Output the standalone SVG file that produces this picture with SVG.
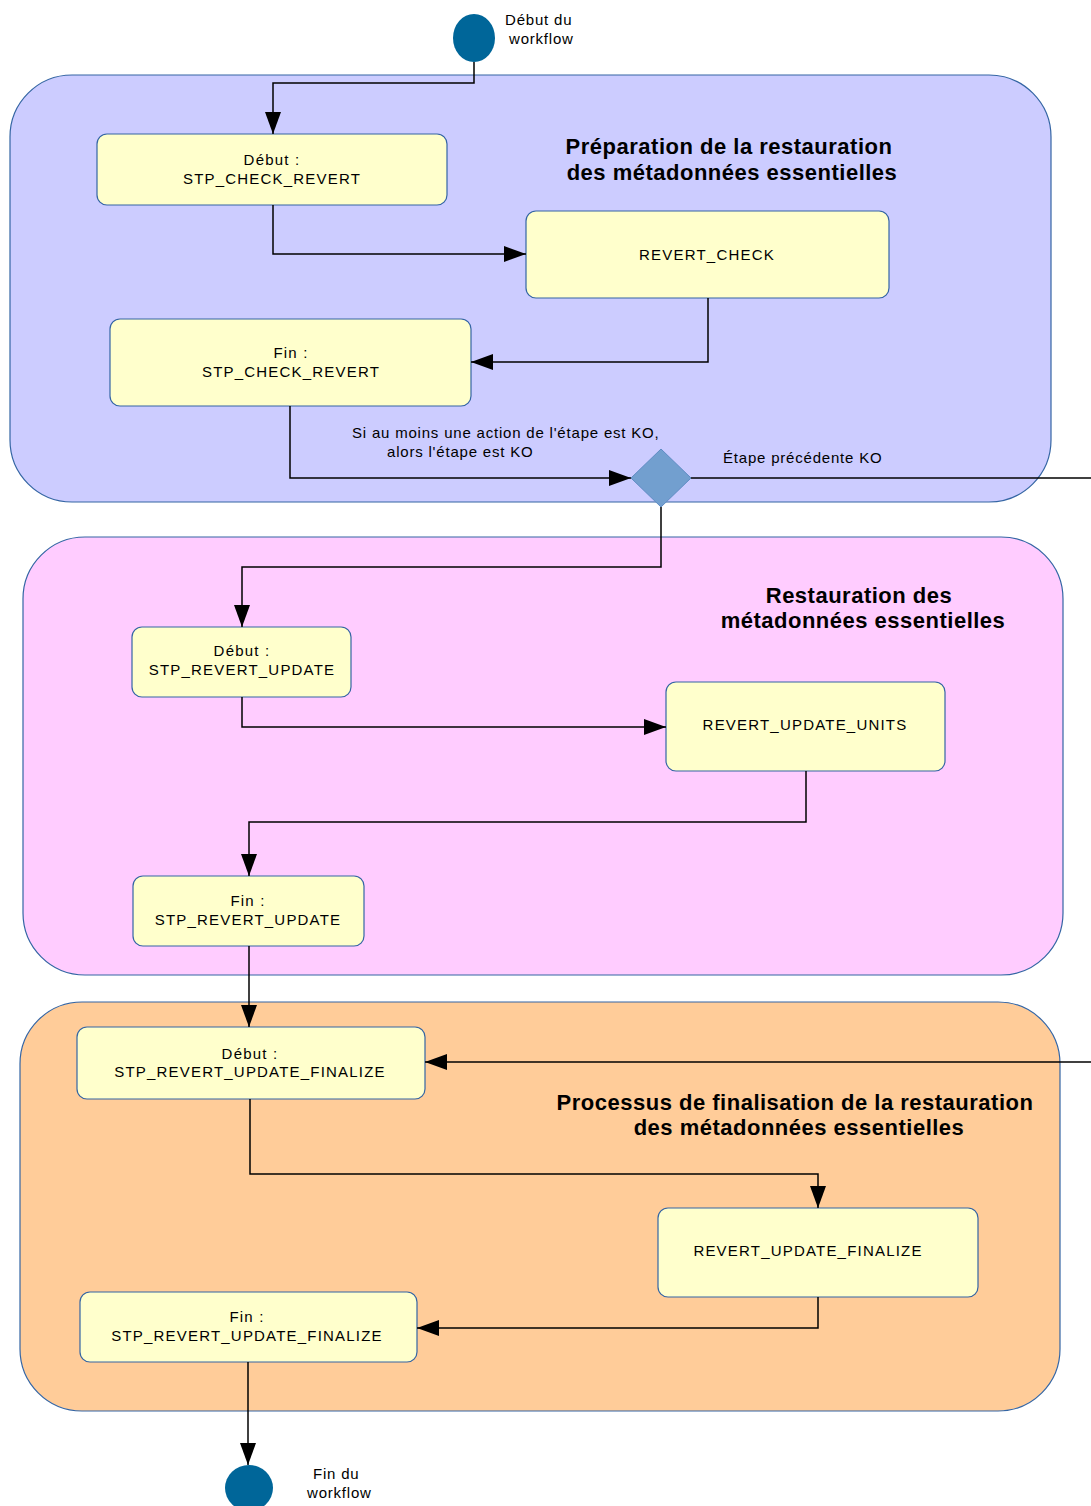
<svg xmlns="http://www.w3.org/2000/svg" width="1091" height="1506" viewBox="0 0 1091 1506">
<style>
.lane{stroke:#3465a4;stroke-width:1.2}
.node{fill:#ffffcc;stroke:#3465a4;stroke-width:1.2}
.t{font-family:"Liberation Sans",Arial,sans-serif;font-size:15px;fill:#000;text-anchor:middle;letter-spacing:1.2px}
.tl{font-family:"Liberation Sans",Arial,sans-serif;font-size:15px;fill:#000;letter-spacing:0.8px}
.title{font-family:"Liberation Sans",Arial,sans-serif;font-size:22px;font-weight:bold;fill:#000;text-anchor:middle;letter-spacing:0.5px}
.c{fill:none;stroke:#000;stroke-width:1.5}
.term{fill:#006699}
</style>
<defs>
<marker id="arr" markerWidth="22" markerHeight="16" refX="22" refY="8" orient="auto" markerUnits="userSpaceOnUse">
<path d="M0,0 L22,8 L0,16 z" fill="#000"/>
</marker>
</defs>
<g id="lane1">
<rect class="lane" x="10" y="75" width="1041" height="427" rx="62" ry="62" fill="#ccccff"/>
<text class="title" x="729" y="154">Préparation de la restauration</text>
<text class="title" x="732" y="180">des métadonnées essentielles</text>
</g>
<g id="lane2">
<rect class="lane" x="23" y="537" width="1040" height="438" rx="62" ry="62" fill="#ffccff"/>
<text class="title" x="859" y="603">Restauration des</text>
<text class="title" x="863" y="628">métadonnées essentielles</text>
</g>
<g id="lane3">
<rect class="lane" x="20" y="1002" width="1040" height="409" rx="62" ry="62" fill="#ffcc99"/>
<text class="title" x="795" y="1110">Processus de finalisation de la restauration</text>
<text class="title" x="799" y="1135">des métadonnées essentielles</text>
</g>
<g id="start">
<ellipse class="term" cx="474" cy="38" rx="21" ry="24"/>
<text class="tl" x="505" y="25">Début du</text>
<text class="tl" x="509" y="44">workflow</text>
</g>
<g id="n_debut_check">
<rect class="node" x="97" y="134" width="350" height="71" rx="10"/>
<text class="t" x="272" y="165">Début :</text>
<text class="t" x="272" y="184">STP_CHECK_REVERT</text>
</g>
<g id="n_revert_check">
<rect class="node" x="526" y="211" width="363" height="87" rx="10"/>
<text class="t" x="707" y="260">REVERT_CHECK</text>
</g>
<g id="n_fin_check">
<rect class="node" x="110" y="319" width="361" height="87" rx="10"/>
<text class="t" x="291" y="358">Fin :</text>
<text class="t" x="291" y="377">STP_CHECK_REVERT</text>
</g>
<g id="decision">
<polygon points="661,449 691,478 661,507 631,478" fill="#729fcf" stroke="#5f8cc4" stroke-width="1"/>
<text class="tl" x="352" y="438">Si au moins une action de l'étape est KO,</text>
<text class="tl" x="387" y="457">alors l'étape est KO</text>
<text class="tl" x="723" y="463">Étape précédente KO</text>
</g>
<g id="n_debut_update">
<rect class="node" x="132" y="627" width="219" height="70" rx="10"/>
<text class="t" x="242" y="656">Début :</text>
<text class="t" x="242" y="675">STP_REVERT_UPDATE</text>
</g>
<g id="n_update_units">
<rect class="node" x="666" y="682" width="279" height="89" rx="10"/>
<text class="t" x="805" y="730">REVERT_UPDATE_UNITS</text>
</g>
<g id="n_fin_update">
<rect class="node" x="133" y="876" width="231" height="70" rx="10"/>
<text class="t" x="248" y="906">Fin :</text>
<text class="t" x="248" y="925">STP_REVERT_UPDATE</text>
</g>
<g id="n_debut_finalize">
<rect class="node" x="77" y="1027" width="348" height="72" rx="10"/>
<text class="t" x="250" y="1059">Début :</text>
<text class="t" x="250" y="1077">STP_REVERT_UPDATE_FINALIZE</text>
</g>
<g id="n_update_finalize">
<rect class="node" x="658" y="1208" width="320" height="89" rx="10"/>
<text class="t" x="808" y="1256">REVERT_UPDATE_FINALIZE</text>
</g>
<g id="n_fin_finalize">
<rect class="node" x="80" y="1292" width="337" height="70" rx="10"/>
<text class="t" x="247" y="1322">Fin :</text>
<text class="t" x="247" y="1341">STP_REVERT_UPDATE_FINALIZE</text>
</g>
<g id="end">
<ellipse class="term" cx="249" cy="1488" rx="24" ry="23"/>
<text class="tl" x="313" y="1479">Fin du</text>
<text class="tl" x="307" y="1498">workflow</text>
</g>
<g id="connectors">
<polyline class="c" points="474,62 474,83 273,83 273,134" marker-end="url(#arr)"/>
<polyline class="c" points="273,205 273,254 526,254" marker-end="url(#arr)"/>
<polyline class="c" points="708,298 708,362 471,362" marker-end="url(#arr)"/>
<polyline class="c" points="290,406 290,478 631,478" marker-end="url(#arr)"/>
<polyline class="c" points="691,478 1091,478"/>
<polyline class="c" points="661,507 661,567 242,567 242,627" marker-end="url(#arr)"/>
<polyline class="c" points="242,697 242,727 666,727" marker-end="url(#arr)"/>
<polyline class="c" points="806,771 806,822 249,822 249,876" marker-end="url(#arr)"/>
<polyline class="c" points="249,946 249,1027" marker-end="url(#arr)"/>
<polyline class="c" points="1091,1062 425,1062" marker-end="url(#arr)"/>
<polyline class="c" points="250,1099 250,1174 818,1174 818,1208" marker-end="url(#arr)"/>
<polyline class="c" points="818,1297 818,1328 417,1328" marker-end="url(#arr)"/>
<polyline class="c" points="248,1362 248,1465" marker-end="url(#arr)"/>
</g>
</svg>
